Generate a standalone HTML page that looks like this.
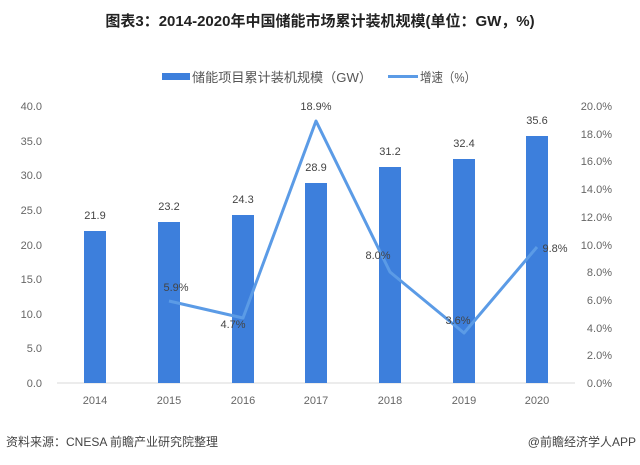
<!DOCTYPE html>
<html><head><meta charset="utf-8"><style>
body{margin:0;background:#fff;}
svg text{font-family:"Liberation Sans","Noto Sans CJK SC",sans-serif;}
</style></head><body>
<svg width="640" height="460" xmlns="http://www.w3.org/2000/svg">
<text x="320" y="26" text-anchor="middle" font-size="15" font-weight="bold" fill="#222">图表3：2014-2020年中国储能市场累计装机规模(单位：GW，%)</text>
<rect x="162" y="73" width="28" height="7" fill="#3d7fdc"/>
<text x="192" y="82" font-size="13" fill="#555" textLength="180" lengthAdjust="spacingAndGlyphs">储能项目累计装机规模（GW）</text>
<line x1="388" y1="76.5" x2="418" y2="76.5" stroke="#5b9be6" stroke-width="3"/>
<text x="420" y="82" font-size="13" fill="#555" textLength="56" lengthAdjust="spacingAndGlyphs">增速（%）</text>
<g font-size="11" fill="#666" text-anchor="end">
<text x="42" y="110">40.0</text><text x="42" y="145">35.0</text><text x="42" y="179">30.0</text><text x="42" y="214">25.0</text><text x="42" y="249">20.0</text><text x="42" y="283">15.0</text><text x="42" y="318">10.0</text><text x="42" y="352">5.0</text><text x="42" y="387">0.0</text>
</g>
<g font-size="11" fill="#666" text-anchor="end">
<text x="612" y="110">20.0%</text><text x="612" y="138">18.0%</text><text x="612" y="165">16.0%</text><text x="612" y="193">14.0%</text><text x="612" y="221">12.0%</text><text x="612" y="249">10.0%</text><text x="612" y="276">8.0%</text><text x="612" y="304">6.0%</text><text x="612" y="332">4.0%</text><text x="612" y="359">2.0%</text><text x="612" y="387">0.0%</text>
</g>
<line x1="57" y1="383" x2="575" y2="383" stroke="#d9d9d9" stroke-width="1"/>
<g fill="#3d7fdc">
<rect x="84" y="231" width="22" height="152"/>
<rect x="158" y="222" width="22" height="161"/>
<rect x="232" y="215" width="22" height="168"/>
<rect x="305" y="183" width="22" height="200"/>
<rect x="379" y="167" width="22" height="216"/>
<rect x="453" y="159" width="22" height="224"/>
<rect x="526" y="136" width="22" height="247"/>
</g>
<g font-size="11" fill="#444" text-anchor="middle">
<text x="95" y="219">21.9</text><text x="169" y="210">23.2</text><text x="243" y="203">24.3</text><text x="316" y="171">28.9</text><text x="390" y="155">31.2</text><text x="464" y="147">32.4</text><text x="537" y="124">35.6</text>
</g>
<polyline points="169,301 243,318 316,121 390,272 464,333 537,247" fill="none" stroke="#5b9be6" stroke-width="3" stroke-linejoin="round"/>
<g font-size="11" fill="#444" text-anchor="middle">
<text x="176" y="291">5.9%</text><text x="233" y="328">4.7%</text><text x="316" y="110">18.9%</text><text x="378" y="259">8.0%</text><text x="458" y="324">3.6%</text><text x="555" y="252">9.8%</text>
</g>
<g font-size="11" fill="#666" text-anchor="middle">
<text x="95" y="404">2014</text><text x="169" y="404">2015</text><text x="243" y="404">2016</text><text x="316" y="404">2017</text><text x="390" y="404">2018</text><text x="464" y="404">2019</text><text x="537" y="404">2020</text>
</g>
<text x="6" y="446" font-size="12" fill="#444">资料来源：CNESA 前瞻产业研究院整理</text>
<text x="636" y="446" font-size="12" fill="#444" text-anchor="end">@前瞻经济学人APP</text>
</svg>
</body></html>
